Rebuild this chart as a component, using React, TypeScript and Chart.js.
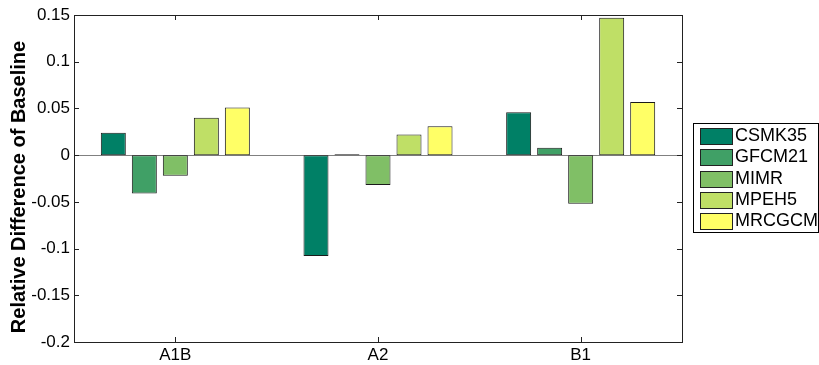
import React, { useEffect, useRef } from "react";
import { Chart, registerables } from "chart.js";

Chart.register(...registerables);

const categories = ["A1B", "A2", "B1"];
const seriesNames = ["CSMK35", "GFCM21", "MIMR", "MPEH5", "MRCGCM"];
const CSMK35 = [0.024, -0.108, 0.046];
const GFCM21 = [-0.041, 0.001, 0.008];
const MIMR = [-0.022, -0.032, -0.052];
const MPEH5 = [0.04, 0.022, 0.147];
const MRCGCM = [0.051, 0.031, 0.057];
const seriesColors = ["#008066", "#40a066", "#80bf66", "#bfdf66", "#ffff66"];
const yTickLabels = ["-0.2", "-0.15", "-0.1", "-0.05", "0", "0.05", "0.1", "0.15"];
const yMin = -0.2;
const yMax = 0.15;
const yStep = 0.05;
const yTitle = "Relative Difference of Baseline";

const FONT = "'Liberation Sans', Arial, sans-serif";

const boxPlugin = {
  id: "matlabBox",
  beforeDatasetsDraw(chart: any) {
    const { ctx, chartArea } = chart;
    const y = chart.scales.y;
    const y0 = Math.round(y.getPixelForValue(0)) + 0.5;
    ctx.save();
    ctx.strokeStyle = "#808080";
    ctx.lineWidth = 1;
    ctx.beginPath();
    ctx.moveTo(chartArea.left, y0);
    ctx.lineTo(chartArea.right, y0);
    ctx.stroke();
    ctx.restore();
  },
  afterDraw(chart: any) {
    const { ctx, chartArea } = chart;
    const { left, right, top, bottom } = chartArea;
    const xs = chart.scales.x;
    const ys = chart.scales.y;
    ctx.save();
    ctx.strokeStyle = "#222";
    ctx.lineWidth = 1;
    ctx.strokeRect(Math.round(left) + 0.5, Math.round(top) + 0.5, Math.round(right - left), Math.round(bottom - top));
    const tl = 5;
    ctx.beginPath();
    ys.ticks.forEach((t: any) => {
      const py = Math.round(ys.getPixelForValue(t.value)) + 0.5;
      ctx.moveTo(left, py);
      ctx.lineTo(left + tl, py);
      ctx.moveTo(right, py);
      ctx.lineTo(right - tl, py);
    });
    categories.forEach((_, i) => {
      const px = Math.round(xs.getPixelForValue(i)) + 0.5;
      ctx.moveTo(px, bottom);
      ctx.lineTo(px, bottom - tl);
      ctx.moveTo(px, top);
      ctx.lineTo(px, top + tl);
    });
    ctx.stroke();

    // y-axis title
    ctx.save();
    ctx.translate(19, 187);
    ctx.rotate(-Math.PI / 2);
    ctx.font = `bold 20px ${FONT}`;
    ctx.fillStyle = "#000";
    ctx.textAlign = "center";
    ctx.textBaseline = "middle";
    ctx.fillText(yTitle, 0, 0);
    ctx.restore();

    // legend
    const lx = 693, ly = 123, lw = 125, lh = 109;
    ctx.fillStyle = "#fff";
    ctx.fillRect(lx, ly, lw, lh);
    ctx.strokeStyle = "#000";
    ctx.strokeRect(lx + 0.5, ly + 0.5, lw, lh);
    ctx.font = `18px ${FONT}`;
    ctx.textBaseline = "middle";
    ctx.textAlign = "left";
    chart.data.datasets.forEach((ds: any, i: number) => {
      const sy = 128 + i * 21.3;
      ctx.fillStyle = ds.backgroundColor;
      ctx.fillRect(700, Math.round(sy), 32, 16);
      ctx.strokeStyle = "#222";
      ctx.strokeRect(700.5, Math.round(sy) + 0.5, 32, 16);
      ctx.fillStyle = "#000";
      ctx.fillText(ds.label, 735, Math.round(sy) + 8.5);
    });
    ctx.restore();
  },
};

export default function App() {
  const ref = useRef<HTMLCanvasElement>(null);
  useEffect(() => {
    document.body.style.margin = "0";
    const seriesValues = [CSMK35, GFCM21, MIMR, MPEH5, MRCGCM];
    const chart = new Chart(ref.current!, {
      type: "bar",
      data: {
        labels: categories,
        datasets: seriesNames.map((name, i) => ({
          label: name,
          data: seriesValues[i],
          backgroundColor: seriesColors[i],
          borderColor: "#1a1a1a",
          borderWidth: 1,
          borderSkipped: false,
          categoryPercentage: 0.765,
          barPercentage: 0.806,
        })),
      },
      options: {
        responsive: false,
        animation: false,
        events: [],
        layout: { padding: { top: 15, right: 137, left: 0, bottom: 0 } },
        plugins: { legend: { display: false }, tooltip: { enabled: false } },
        scales: {
          x: {
            type: "category",
            grid: { display: false, drawTicks: false },
            border: { display: false },
            ticks: { color: "#000", font: { family: FONT, size: 17 }, padding: 3 },
            afterFit(scale: any) {
              scale.height = 23;
            },
          },
          y: {
            min: yMin,
            max: yMax,
            grid: { display: false, drawTicks: false },
            border: { display: false },
            ticks: {
              stepSize: yStep,
              color: "#000",
              font: { family: FONT, size: 17 },
              padding: 4,
              callback: (_v: any, i: number) => yTickLabels[i],
            },
            afterFit(scale: any) {
              scale.width = 74;
            },
          },
        },
      },
      plugins: [boxPlugin],
    });
    return () => chart.destroy();
  }, []);
  return <canvas ref={ref} width={819} height={365} style={{ display: "block" }} />;
}
